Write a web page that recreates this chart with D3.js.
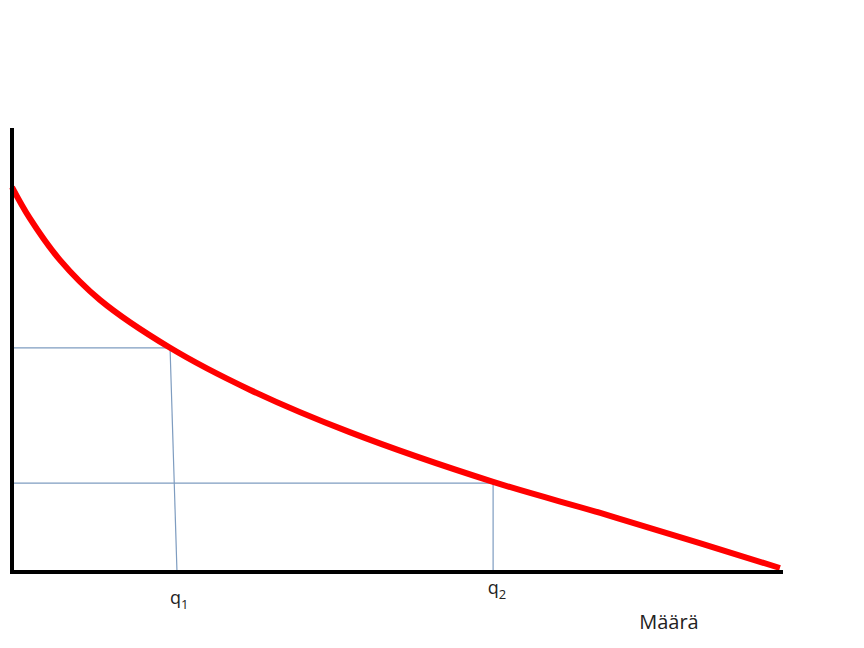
<!DOCTYPE html>
<html><head><meta charset="utf-8">
<script src="https://cdn.jsdelivr.net/npm/d3@7"></script>
<style>html,body{margin:0;padding:0;background:#fff;}</style>
</head><body>
<svg id="c" width="864" height="648"></svg>
<script>
// Demand curve (quantity 0..100, price 0..100)
const curveQ = [0, 2.3, 6.2, 11.4, 20.5, 30.9, 43.8, 62.4, 76.3, 89.2, 99.6];
const curveP = [86.7, 79.7, 70.3, 61.3, 50.5, 41.0, 31.5, 20.3, 13.3, 6.5, 0.9];
const guideQTop = [20.5, 62.4];
const guideQBottom = [21.4, 62.4];
const guideP = [50.5, 20.0];
const qLabels = ["q", "q"];
const qSubs = ["1", "2"];
const xTitle = "Määrä";

const svg = d3.select("#c");
const x = d3.scaleLinear().domain([0, 100]).range([12, 783]);
const y = d3.scaleLinear().domain([0, 100]).range([572, 128]);

const guideColor = "#7e9cc0";
guideP.forEach((p, i) => {
  svg.append("line").attr("x1", x(0)).attr("x2", x(guideQTop[i]))
    .attr("y1", y(p)).attr("y2", y(p))
    .attr("stroke", guideColor).attr("stroke-width", 1.2);
  svg.append("line").attr("x1", x(guideQTop[i])).attr("x2", x(guideQBottom[i]))
    .attr("y1", y(p)).attr("y2", y(0))
    .attr("stroke", guideColor).attr("stroke-width", 1.2);
});

const pts = curveQ.map((q, i) => [q, curveP[i]]);
svg.append("path").datum(pts)
  .attr("d", d3.line().x(d => x(d[0])).y(d => y(d[1])).curve(d3.curveCatmullRom))
  .attr("fill", "none").attr("stroke", "#ff0000").attr("stroke-width", 6)
  .attr("stroke-linecap", "butt");

svg.append("line").attr("x1", x(0)).attr("x2", x(0)).attr("y1", y(100)).attr("y2", y(0) + 2)
  .attr("stroke", "#000").attr("stroke-width", 4);
svg.append("line").attr("x1", x(0) - 2).attr("x2", x(100)).attr("y1", y(0)).attr("y2", y(0))
  .attr("stroke", "#000").attr("stroke-width", 4);

const labelY = [604, 594];
const labelX = [guideQBottom[0] + 0.3, guideQTop[1] + 0.5];
qLabels.forEach((l, i) => {
  const t = svg.append("text").attr("x", x(labelX[i])).attr("y", labelY[i])
    .attr("text-anchor", "middle").attr("font-family", "Open Sans, sans-serif")
    .attr("font-size", 18).attr("fill", "#222");
  t.append("tspan").text(l);
  t.append("tspan").attr("dy", 5).attr("font-size", 13).text(qSubs[i]);
});
svg.append("text").attr("x", 669).attr("y", 629).attr("text-anchor", "middle")
  .attr("font-family", "Open Sans, sans-serif").attr("font-size", 20).attr("fill", "#222")
  .text(xTitle);
</script>
</body></html>
